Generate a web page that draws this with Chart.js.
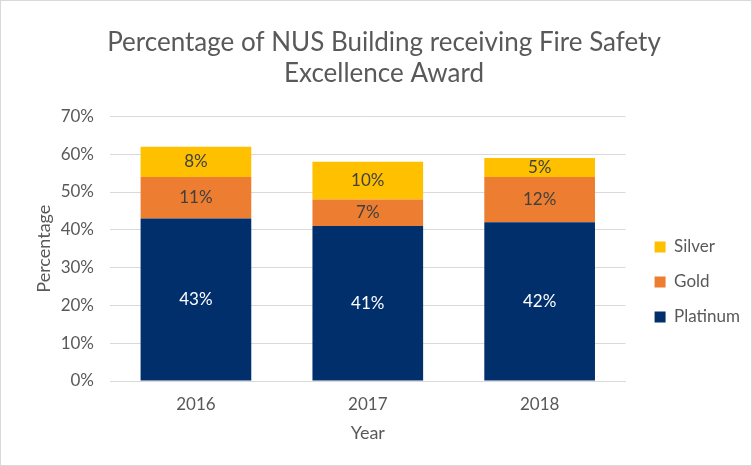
<!DOCTYPE html>
<html><head><meta charset="utf-8">
<script src="https://cdn.jsdelivr.net/npm/chart.js@4"></script>
<style>
html,body{margin:0;padding:0;background:#fff;}
#wrap{position:absolute;left:0;top:0;width:750px;height:464px;border:1px solid #d9d9d9;}
</style></head>
<body><div id="wrap"><canvas id="c" width="750" height="464"></canvas></div>
<script>
const years = ['2016', '2017', '2018'];
const platinum = [43, 41, 42];
const gold = [11, 7, 12];
const silver = [8, 10, 5];
const yTicks = [0, 10, 20, 30, 40, 50, 60, 70];

const FONT = "Lato, 'Open Sans', sans-serif";
const labelPlugin = {
  id: 'barLabels',
  afterLayout(chart) {
    if (chart.legend) { chart.legend.left += 11; chart.legend.right += 11; }
  },
  afterDatasetsDraw(chart) {
    const ctx = chart.ctx;
    ctx.save();
    ctx.font = '17px ' + FONT;
    ctx.textAlign = 'center';
    ctx.textBaseline = 'middle';
    chart.data.datasets.forEach((ds, i) => {
      const meta = chart.getDatasetMeta(i);
      meta.data.forEach((bar, j) => {
        const y = (bar.y + bar.base) / 2;
        ctx.fillStyle = ds.labelColor;
        ctx.fillText(ds.data[j] + '%', bar.x, y);
      });
    });
    ctx.restore();
  }
};

new Chart(document.getElementById('c'), {
  type: 'bar',
  data: {
    labels: years,
    datasets: [
      {label: 'Platinum', data: platinum, backgroundColor: '#002f6c', labelColor: '#ffffff'},
      {label: 'Gold', data: gold, backgroundColor: '#ed7d31', labelColor: '#404040'},
      {label: 'Silver', data: silver, backgroundColor: '#ffc000', labelColor: '#404040'}
    ]
  },
  options: {
    responsive: false,
    animation: false,
    devicePixelRatio: 1,
    layout: {padding: {left: 28, right: 12, top: 26, bottom: 17}},
    datasets: {bar: {categoryPercentage: 1, barPercentage: 0.644}},
    plugins: {
      title: {
        display: true,
        text: ['Percentage of NUS Building receiving Fire Safety', 'Excellence Award'],
        color: '#595959',
        font: {family: FONT, size: 26, weight: 'normal'},
        lineHeight: 1.25,
        padding: {top: 0, bottom: 27}
      },
      legend: {
        position: 'right',
        reverse: true,
        title: {display: true, text: ' ', font: {size: 14}, padding: {top: 0, bottom: 72}},
        labels: {
          color: '#595959',
          font: {family: FONT, size: 17},
          boxWidth: 11, boxHeight: 11,
          padding: 18
        }
      },
      tooltip: {enabled: false}
    },
    scales: {
      x: {
        stacked: true,
        grid: {display: false},
        border: {color: '#d9d9d9'},
        ticks: {color: '#595959', font: {family: FONT, size: 17}, padding: 5},
        title: {display: true, text: 'Year', color: '#595959', font: {family: FONT, size: 18}, padding: {top: 3}}
      },
      y: {
        stacked: true,
        min: 0, max: 70,
        afterBuildTicks(axis) { axis.ticks = yTicks.map(v => ({value: v})); },
        afterFit(axis) { axis.width = 81; },
        grid: {color: '#d9d9d9', drawTicks: false},
        border: {display: false},
        ticks: {color: '#595959', font: {family: FONT, size: 17}, padding: 16, callback: v => v + '%'},
        title: {display: true, text: 'Percentage', color: '#595959', font: {family: FONT, size: 18}, padding: {top: 4, bottom: 7}}
      }
    }
  },
  plugins: [labelPlugin]
});
</script>
</body></html>
